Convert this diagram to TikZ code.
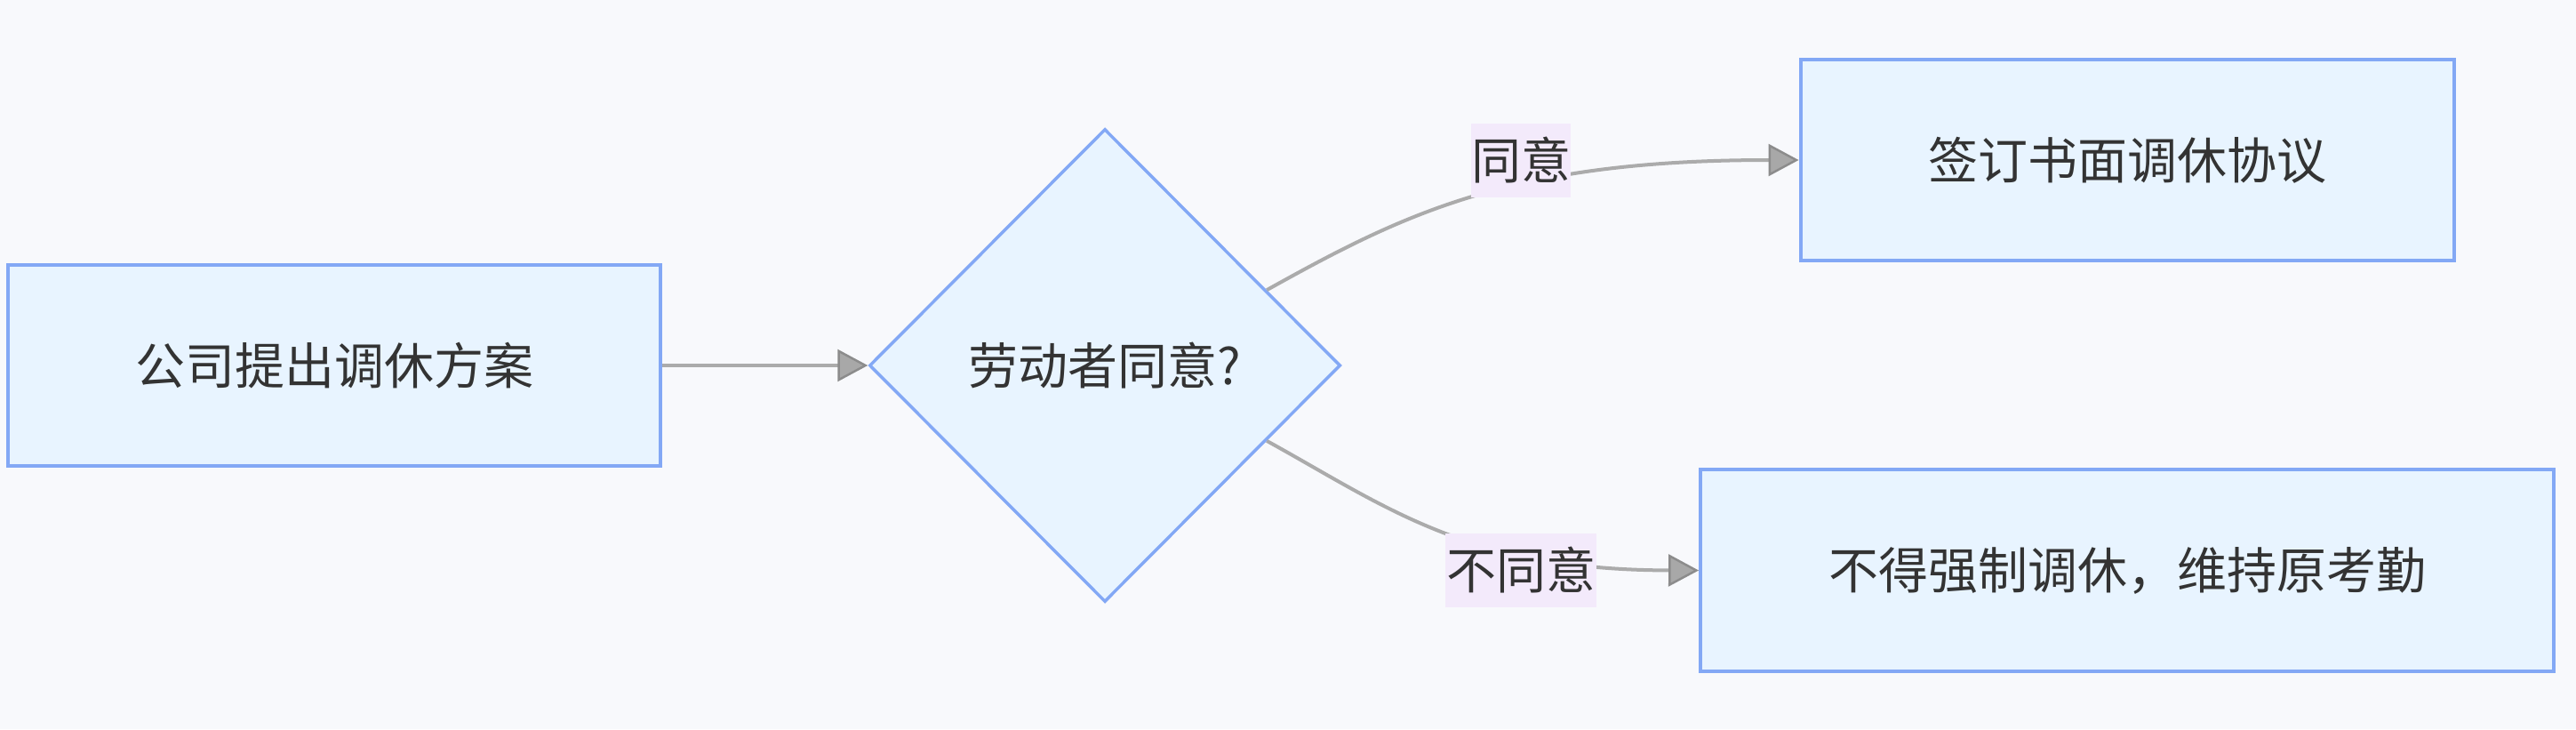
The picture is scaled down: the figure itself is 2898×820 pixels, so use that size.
\documentclass[tikz,border=0pt]{standalone}
\usepackage{fontspec}
\newfontfamily\cjk{Noto Sans CJK SC}
\usetikzlibrary{shapes.geometric,arrows.meta,calc}
\definecolor{bgc}{HTML}{F8F9FC}
\definecolor{boxfill}{HTML}{E8F4FF}
\definecolor{boxline}{HTML}{83A8F5}
\definecolor{lblfill}{HTML}{F3EAFB}
\definecolor{edgec}{HTML}{ABABAB}
\definecolor{tipfill}{HTML}{A8A8A8}
\definecolor{tipline}{HTML}{8C8C8C}
\definecolor{txt}{HTML}{333333}
\tikzset{
 base/.style={font=\cjk\fontsize{56}{60}\selectfont, text=txt, inner sep=0pt},
 procbox/.style={base, rectangle, draw=boxline, fill=boxfill, line width=4pt},
 decbox/.style={base, diamond, draw=boxline, fill=boxfill, line width=3.5pt},
 lbl/.style={base, fill=lblfill, minimum height=83pt},
 flow/.style={draw=edgec, line width=4pt, -{Triangle[length=34pt,width=36pt,fill=tipfill,color=tipline,line width=2.5pt]}},
}
\begin{document}
\begin{tikzpicture}[x=1pt,y=-1pt]
\fill[bgc] (0,0) rectangle (2898,820);
\useasboundingbox (0,0) rectangle (2898,820);
\node[procbox, minimum width=734pt, minimum height=226pt] (n1) at (376,411) {公司提出调休方案};
\node[decbox, minimum width=530pt, minimum height=532pt] (n2) at (1243,411) {劳动者同意?};
\node[procbox, minimum width=735pt, minimum height=226pt] (n3) at (2393,180) {签订书面调休协议};
\node[procbox, minimum width=960pt, minimum height=227pt] (n4) at (2393,641.5) {不得强制调休，维持原考勤};
\coordinate (ys) at ($(n2.east)!0.317!(n2.north)$);
\coordinate (ns) at ($(n2.east)!0.317!(n2.south)$);
\draw[flow] (n1.east) -- (n2.west);
\draw[flow] (ys) .. controls (1580,240) and (1700,180) .. (n3.west);
\draw[flow] (ns) .. controls (1560,570) and (1650,641) .. (n4.west);
\node[lbl, minimum width=112pt] (l1) at (1711,180) {同意};
\node[lbl, minimum width=170pt] (l2) at (1711,641) {不同意};
\end{tikzpicture}
\end{document}
